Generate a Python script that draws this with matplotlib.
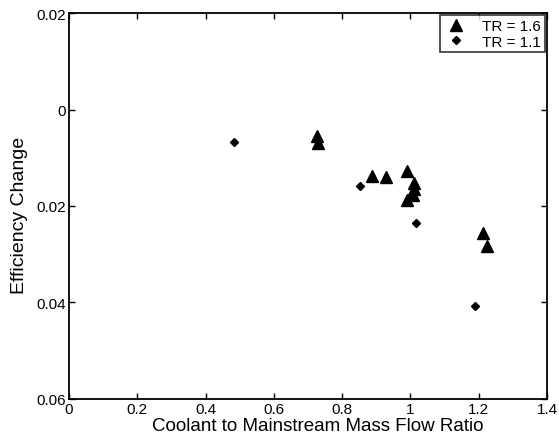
import matplotlib
matplotlib.use("Agg")
import matplotlib.pyplot as plt

plt.rcParams['font.family'] = ['Liberation Sans', 'DejaVu Sans']

# TR = 1.6 (triangles)
tr16_x = [0.727, 0.730, 0.887, 0.929, 0.989, 1.010, 1.010, 1.009, 0.989, 1.212, 1.225]
tr16_y = [-0.0055, -0.0070, -0.0137, -0.0139, -0.0128, -0.0153, -0.0164, -0.0178, -0.0187, -0.0256, -0.0283]

# TR = 1.1 (diamonds)
tr11_x = [0.483, 0.852, 1.016, 1.189]
tr11_y = [-0.0068, -0.0158, -0.0236, -0.0408]

x_ticks = [0, 0.2, 0.4, 0.6, 0.8, 1, 1.2, 1.4]
x_tick_labels = ["0", "0.2", "0.4", "0.6", "0.8", "1", "1.2", "1.4"]
y_ticks = [0.02, 0, -0.02, -0.04, -0.06]
y_tick_labels = ["0.02", "0", "0.02", "0.04", "0.06"]

fig = plt.figure(figsize=(5.59, 4.35), dpi=100)
ax = fig.add_axes([0.1234, 0.0805, 0.8551, 0.8873])

ax.plot(tr16_x, tr16_y, linestyle='none', marker='^', markersize=8,
        color='black', label='TR = 1.6')
ax.plot(tr11_x, tr11_y, linestyle='none', marker='D', markersize=4.5,
        color='black', label='TR = 1.1')

ax.set_xlim(0, 1.4)
ax.set_ylim(-0.06, 0.02)
ax.set_xticks(x_ticks)
ax.set_xticklabels(x_tick_labels)
ax.set_yticks(y_ticks)
ax.set_yticklabels(y_tick_labels)

ax.tick_params(direction='in', top=True, right=True, length=4,
               width=1, labelsize=11, pad=2)
for s in ax.spines.values():
    s.set_linewidth(1.3)

ax.set_xlabel("Coolant to Mainstream Mass Flow Ratio", fontsize=13.5)
ax.set_ylabel("Efficiency Change", fontsize=14)
ax.xaxis.set_label_coords(0.521, -0.046)
ax.yaxis.set_label_coords(-0.086, 0.477)

leg = ax.legend(loc='upper right', fontsize=11, frameon=True, fancybox=False,
                edgecolor='black', borderpad=0.25, handletextpad=0.9,
                labelspacing=0.1, borderaxespad=0.15, handlelength=1.6)
leg.get_frame().set_linewidth(1.2)

fig.savefig("out.png", dpi=100)
